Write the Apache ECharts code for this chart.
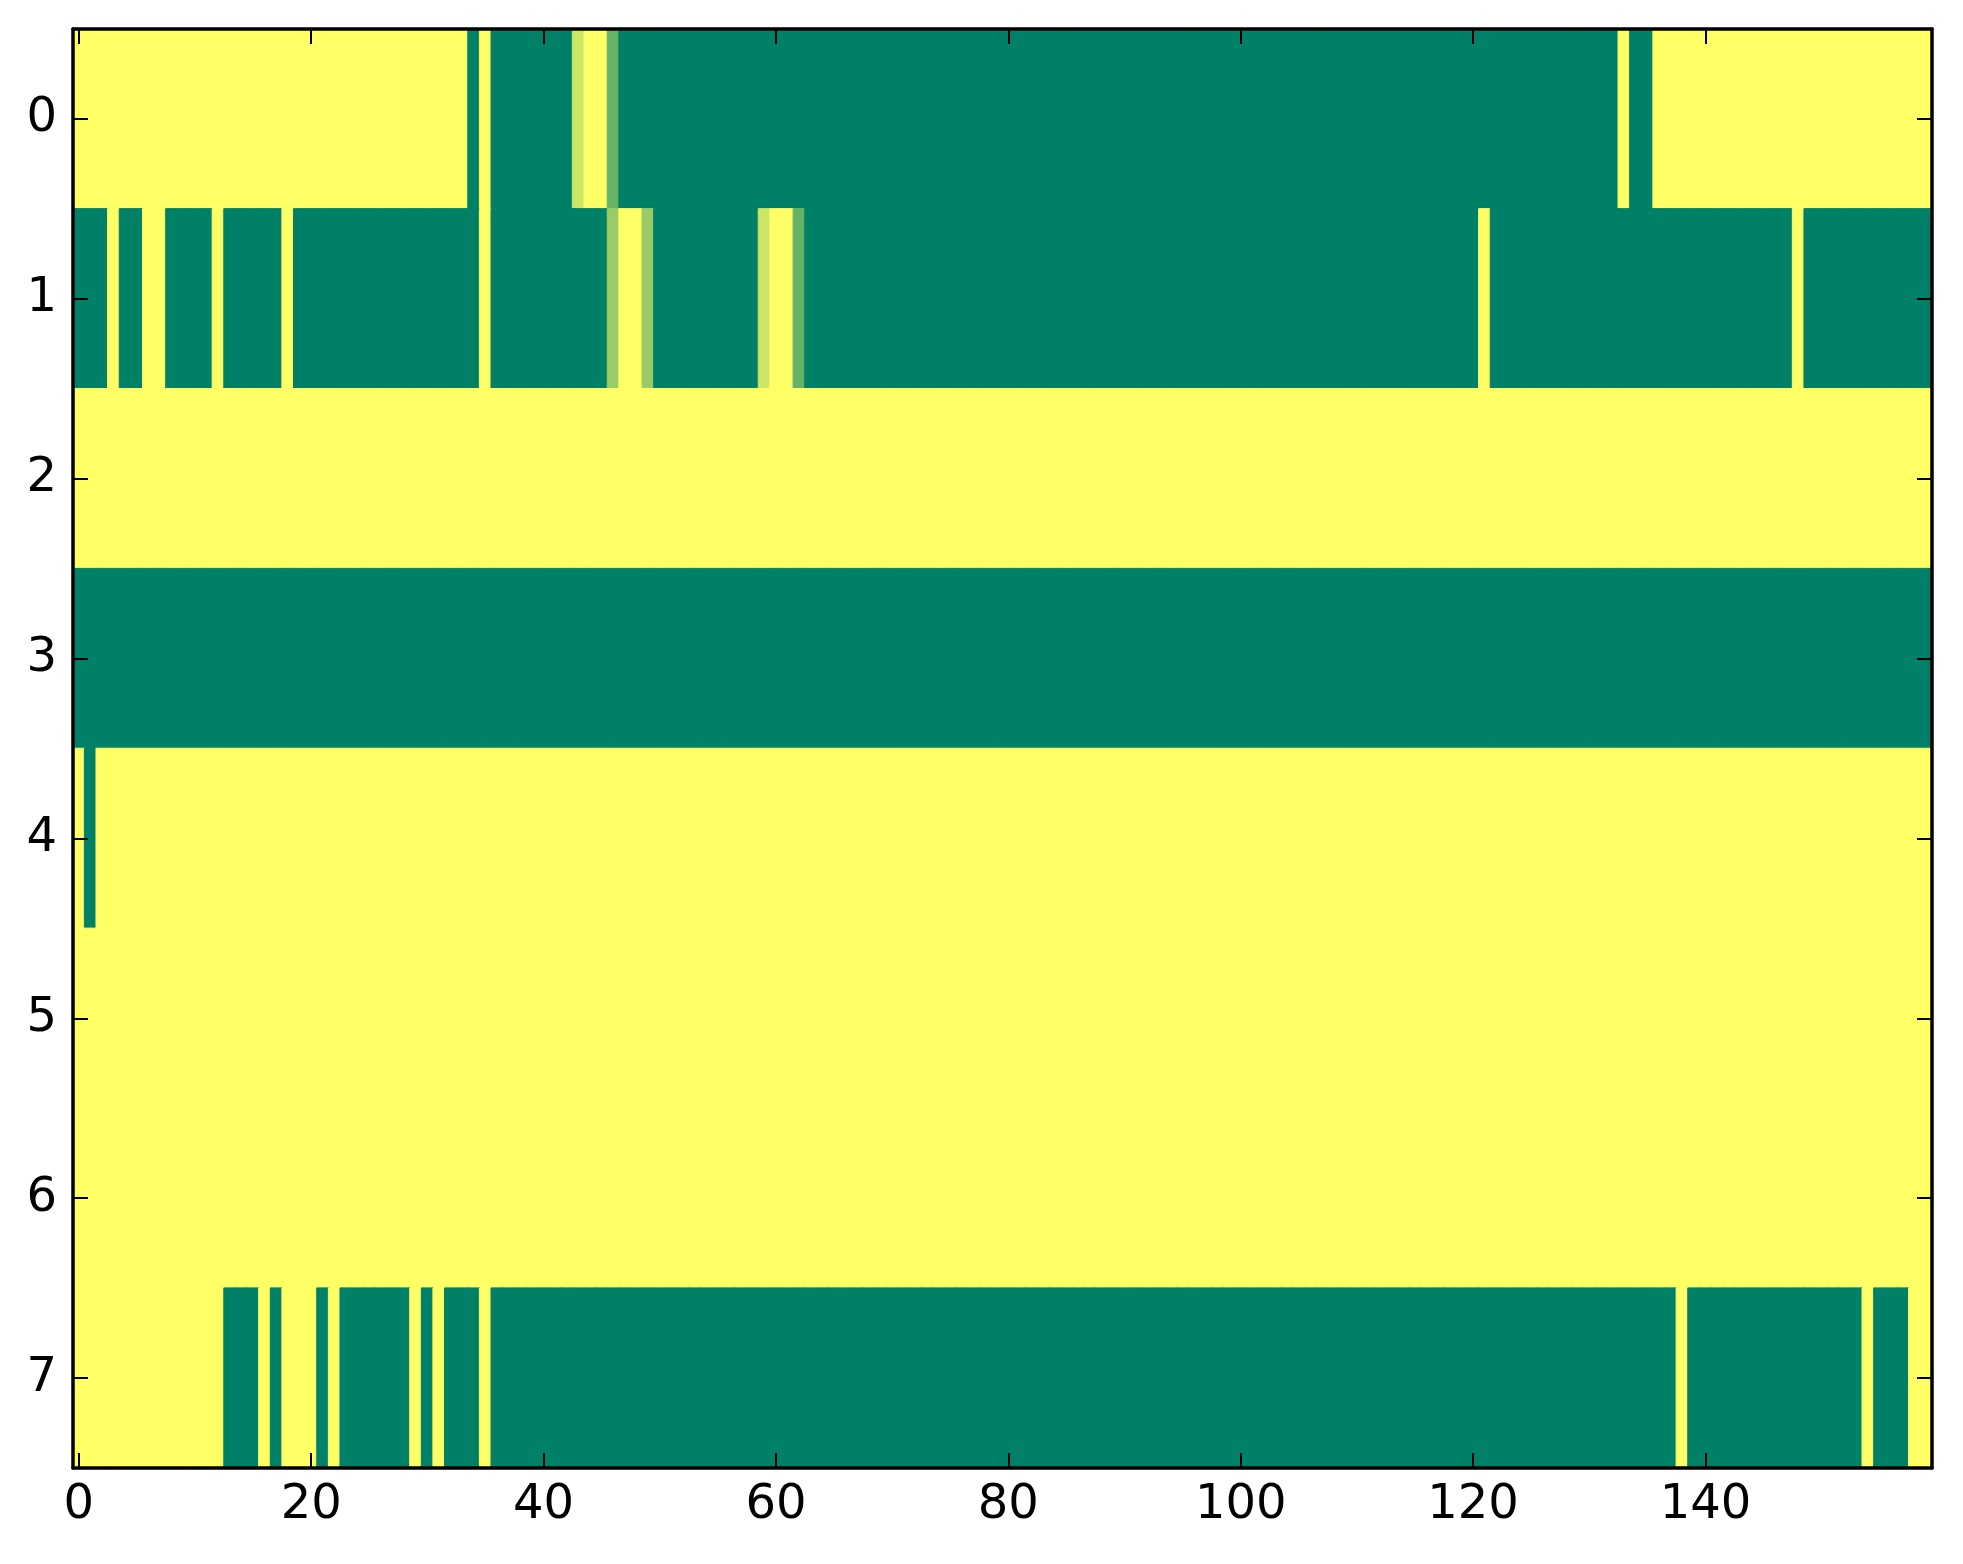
<!DOCTYPE html>
<html>
<head>
<meta charset="utf-8">
<script src="https://cdn.jsdelivr.net/npm/echarts@6/dist/echarts.min.js"></script>
<style>
html,body{margin:0;padding:0;background:#fff;}
#chart{width:1963px;height:1564px;}
</style>
</head>
<body>
<div id="chart"></div>
<script>
// Column categories 0..159 and row categories 0..7
var xCategories = [
 0,1,2,3,4,5,6,7,8,9,10,11,12,13,14,15,16,17,18,19,
 20,21,22,23,24,25,26,27,28,29,30,31,32,33,34,35,36,37,38,39,
 40,41,42,43,44,45,46,47,48,49,50,51,52,53,54,55,56,57,58,59,
 60,61,62,63,64,65,66,67,68,69,70,71,72,73,74,75,76,77,78,79,
 80,81,82,83,84,85,86,87,88,89,90,91,92,93,94,95,96,97,98,99,
 100,101,102,103,104,105,106,107,108,109,110,111,112,113,114,115,116,117,118,119,
 120,121,122,123,124,125,126,127,128,129,130,131,132,133,134,135,136,137,138,139,
 140,141,142,143,144,145,146,147,148,149,150,151,152,153,154,155,156,157,158,159
];
var yCategories = ['0','1','2','3','4','5','6','7'];
var xTickLabels = ['0','20','40','60','80','100','120','140'];

var row0 = [
 1,1,1,1,1,1,1,1,1,1,1,1,1,1,1,1,1,1,1,1,
 1,1,1,1,1,1,1,1,1,1,1,1,1,1,0,1,0,0,0,0,
 0,0,0,0.8,1,1,0.4,0,0,0,0,0,0,0,0,0,0,0,0,0,
 0,0,0,0,0,0,0,0,0,0,0,0,0,0,0,0,0,0,0,0,
 0,0,0,0,0,0,0,0,0,0,0,0,0,0,0,0,0,0,0,0,
 0,0,0,0,0,0,0,0,0,0,0,0,0,0,0,0,0,0,0,0,
 0,0,0,0,0,0,0,0,0,0,0,0,0,1,0,0,1,1,1,1,
 1,1,1,1,1,1,1,1,1,1,1,1,1,1,1,1,1,1,1,1
];
var row1 = [
 0,0,0,1,0,0,1,1,0,0,0,0,1,0,0,0,0,0,1,0,
 0,0,0,0,0,0,0,0,0,0,0,0,0,0,0,1,0,0,0,0,
 0,0,0,0,0,0,0.6,1,1,0.6,0,0,0,0,0,0,0,0,0,0.8,
 1,1,0.4,0,0,0,0,0,0,0,0,0,0,0,0,0,0,0,0,0,
 0,0,0,0,0,0,0,0,0,0,0,0,0,0,0,0,0,0,0,0,
 0,0,0,0,0,0,0,0,0,0,0,0,0,0,0,0,0,0,0,0,
 0,1,0,0,0,0,0,0,0,0,0,0,0,0,0,0,0,0,0,0,
 0,0,0,0,0,0,0,0,1,0,0,0,0,0,0,0,0,0,0,0
];
var row2 = [
 1,1,1,1,1,1,1,1,1,1,1,1,1,1,1,1,1,1,1,1,
 1,1,1,1,1,1,1,1,1,1,1,1,1,1,1,1,1,1,1,1,
 1,1,1,1,1,1,1,1,1,1,1,1,1,1,1,1,1,1,1,1,
 1,1,1,1,1,1,1,1,1,1,1,1,1,1,1,1,1,1,1,1,
 1,1,1,1,1,1,1,1,1,1,1,1,1,1,1,1,1,1,1,1,
 1,1,1,1,1,1,1,1,1,1,1,1,1,1,1,1,1,1,1,1,
 1,1,1,1,1,1,1,1,1,1,1,1,1,1,1,1,1,1,1,1,
 1,1,1,1,1,1,1,1,1,1,1,1,1,1,1,1,1,1,1,1
];
var row3 = [
 0,0,0,0,0,0,0,0,0,0,0,0,0,0,0,0,0,0,0,0,
 0,0,0,0,0,0,0,0,0,0,0,0,0,0,0,0,0,0,0,0,
 0,0,0,0,0,0,0,0,0,0,0,0,0,0,0,0,0,0,0,0,
 0,0,0,0,0,0,0,0,0,0,0,0,0,0,0,0,0,0,0,0,
 0,0,0,0,0,0,0,0,0,0,0,0,0,0,0,0,0,0,0,0,
 0,0,0,0,0,0,0,0,0,0,0,0,0,0,0,0,0,0,0,0,
 0,0,0,0,0,0,0,0,0,0,0,0,0,0,0,0,0,0,0,0,
 0,0,0,0,0,0,0,0,0,0,0,0,0,0,0,0,0,0,0,0
];
var row4 = [
 1,0,1,1,1,1,1,1,1,1,1,1,1,1,1,1,1,1,1,1,
 1,1,1,1,1,1,1,1,1,1,1,1,1,1,1,1,1,1,1,1,
 1,1,1,1,1,1,1,1,1,1,1,1,1,1,1,1,1,1,1,1,
 1,1,1,1,1,1,1,1,1,1,1,1,1,1,1,1,1,1,1,1,
 1,1,1,1,1,1,1,1,1,1,1,1,1,1,1,1,1,1,1,1,
 1,1,1,1,1,1,1,1,1,1,1,1,1,1,1,1,1,1,1,1,
 1,1,1,1,1,1,1,1,1,1,1,1,1,1,1,1,1,1,1,1,
 1,1,1,1,1,1,1,1,1,1,1,1,1,1,1,1,1,1,1,1
];
var row5 = [
 1,1,1,1,1,1,1,1,1,1,1,1,1,1,1,1,1,1,1,1,
 1,1,1,1,1,1,1,1,1,1,1,1,1,1,1,1,1,1,1,1,
 1,1,1,1,1,1,1,1,1,1,1,1,1,1,1,1,1,1,1,1,
 1,1,1,1,1,1,1,1,1,1,1,1,1,1,1,1,1,1,1,1,
 1,1,1,1,1,1,1,1,1,1,1,1,1,1,1,1,1,1,1,1,
 1,1,1,1,1,1,1,1,1,1,1,1,1,1,1,1,1,1,1,1,
 1,1,1,1,1,1,1,1,1,1,1,1,1,1,1,1,1,1,1,1,
 1,1,1,1,1,1,1,1,1,1,1,1,1,1,1,1,1,1,1,1
];
var row6 = [
 1,1,1,1,1,1,1,1,1,1,1,1,1,1,1,1,1,1,1,1,
 1,1,1,1,1,1,1,1,1,1,1,1,1,1,1,1,1,1,1,1,
 1,1,1,1,1,1,1,1,1,1,1,1,1,1,1,1,1,1,1,1,
 1,1,1,1,1,1,1,1,1,1,1,1,1,1,1,1,1,1,1,1,
 1,1,1,1,1,1,1,1,1,1,1,1,1,1,1,1,1,1,1,1,
 1,1,1,1,1,1,1,1,1,1,1,1,1,1,1,1,1,1,1,1,
 1,1,1,1,1,1,1,1,1,1,1,1,1,1,1,1,1,1,1,1,
 1,1,1,1,1,1,1,1,1,1,1,1,1,1,1,1,1,1,1,1
];
var row7 = [
 1,1,1,1,1,1,1,1,1,1,1,1,1,0,0,0,1,0,1,1,
 1,0,1,0,0,0,0,0,0,1,0,1,0,0,0,1,0,0,0,0,
 0,0,0,0,0,0,0,0,0,0,0,0,0,0,0,0,0,0,0,0,
 0,0,0,0,0,0,0,0,0,0,0,0,0,0,0,0,0,0,0,0,
 0,0,0,0,0,0,0,0,0,0,0,0,0,0,0,0,0,0,0,0,
 0,0,0,0,0,0,0,0,0,0,0,0,0,0,0,0,0,0,0,0,
 0,0,0,0,0,0,0,0,0,0,0,0,0,0,0,0,0,0,1,0,
 0,0,0,0,0,0,0,0,0,0,0,0,0,0,1,0,0,0,1,1
];
var rows = [row0, row1, row2, row3, row4, row5, row6, row7];
var colorRange = ['#008066', '#ffff66'];

var heatData = [];
rows.forEach(function (r, yi) {
  r.forEach(function (v, xi) {
    heatData.push({
      value: [xi, yi, v],
      // border in the cell's own colour hides anti-aliasing seams between cells
      itemStyle: {borderWidth: 1, borderColor: echarts.color.lerp(v, colorRange)}
    });
  });
});

var FONT = 'DejaVu Sans';
function xTickShown(index, value) { return xTickLabels.indexOf(String(value)) !== -1; }
var lineStyle = {color: '#000', width: 3.5};
var tickStyle = {color: '#000', width: 2};

var chart = echarts.init(document.getElementById('chart'), null, {renderer: 'canvas'});
chart.setOption({
  backgroundColor: '#fff',
  animation: false,
  grid: {left: 73, right: 31, top: 29, bottom: 96, containLabel: false},
  xAxis: [{
    type: 'category', data: xCategories, position: 'bottom', z: 10,
    axisLine: {show: true, lineStyle: lineStyle},
    axisTick: {show: true, inside: true, length: 15, alignWithLabel: true, interval: xTickShown, lineStyle: tickStyle},
    axisLabel: {show: true, interval: xTickShown, margin: 14, color: '#000', fontFamily: FONT, fontSize: 48},
    splitLine: {show: false}
  }, {
    type: 'category', data: xCategories, position: 'top', z: 10,
    axisLine: {show: true, lineStyle: lineStyle},
    axisTick: {show: true, inside: true, length: 15, alignWithLabel: true, interval: xTickShown, lineStyle: tickStyle},
    axisLabel: {show: false},
    splitLine: {show: false}
  }],
  yAxis: [{
    type: 'category', data: yCategories, inverse: true, position: 'left', z: 10,
    axisLine: {show: true, lineStyle: lineStyle},
    axisTick: {show: true, inside: true, length: 15, alignWithLabel: true, interval: 0, lineStyle: tickStyle},
    axisLabel: {show: true, interval: 0, margin: 16, color: '#000', fontFamily: FONT, fontSize: 48},
    splitLine: {show: false}
  }, {
    type: 'category', data: yCategories, inverse: true, position: 'right', z: 10,
    axisLine: {show: true, lineStyle: lineStyle},
    axisTick: {show: true, inside: true, length: 15, alignWithLabel: true, interval: 0, lineStyle: tickStyle},
    axisLabel: {show: false},
    splitLine: {show: false}
  }],
  visualMap: {
    type: 'continuous', show: false, min: 0, max: 1, dimension: 2,
    inRange: {color: colorRange}
  },
  series: [{
    type: 'heatmap', xAxisIndex: 0, yAxisIndex: 0,
    data: heatData,
    emphasis: {disabled: true}
  }]
});
</script>
</body>
</html>
